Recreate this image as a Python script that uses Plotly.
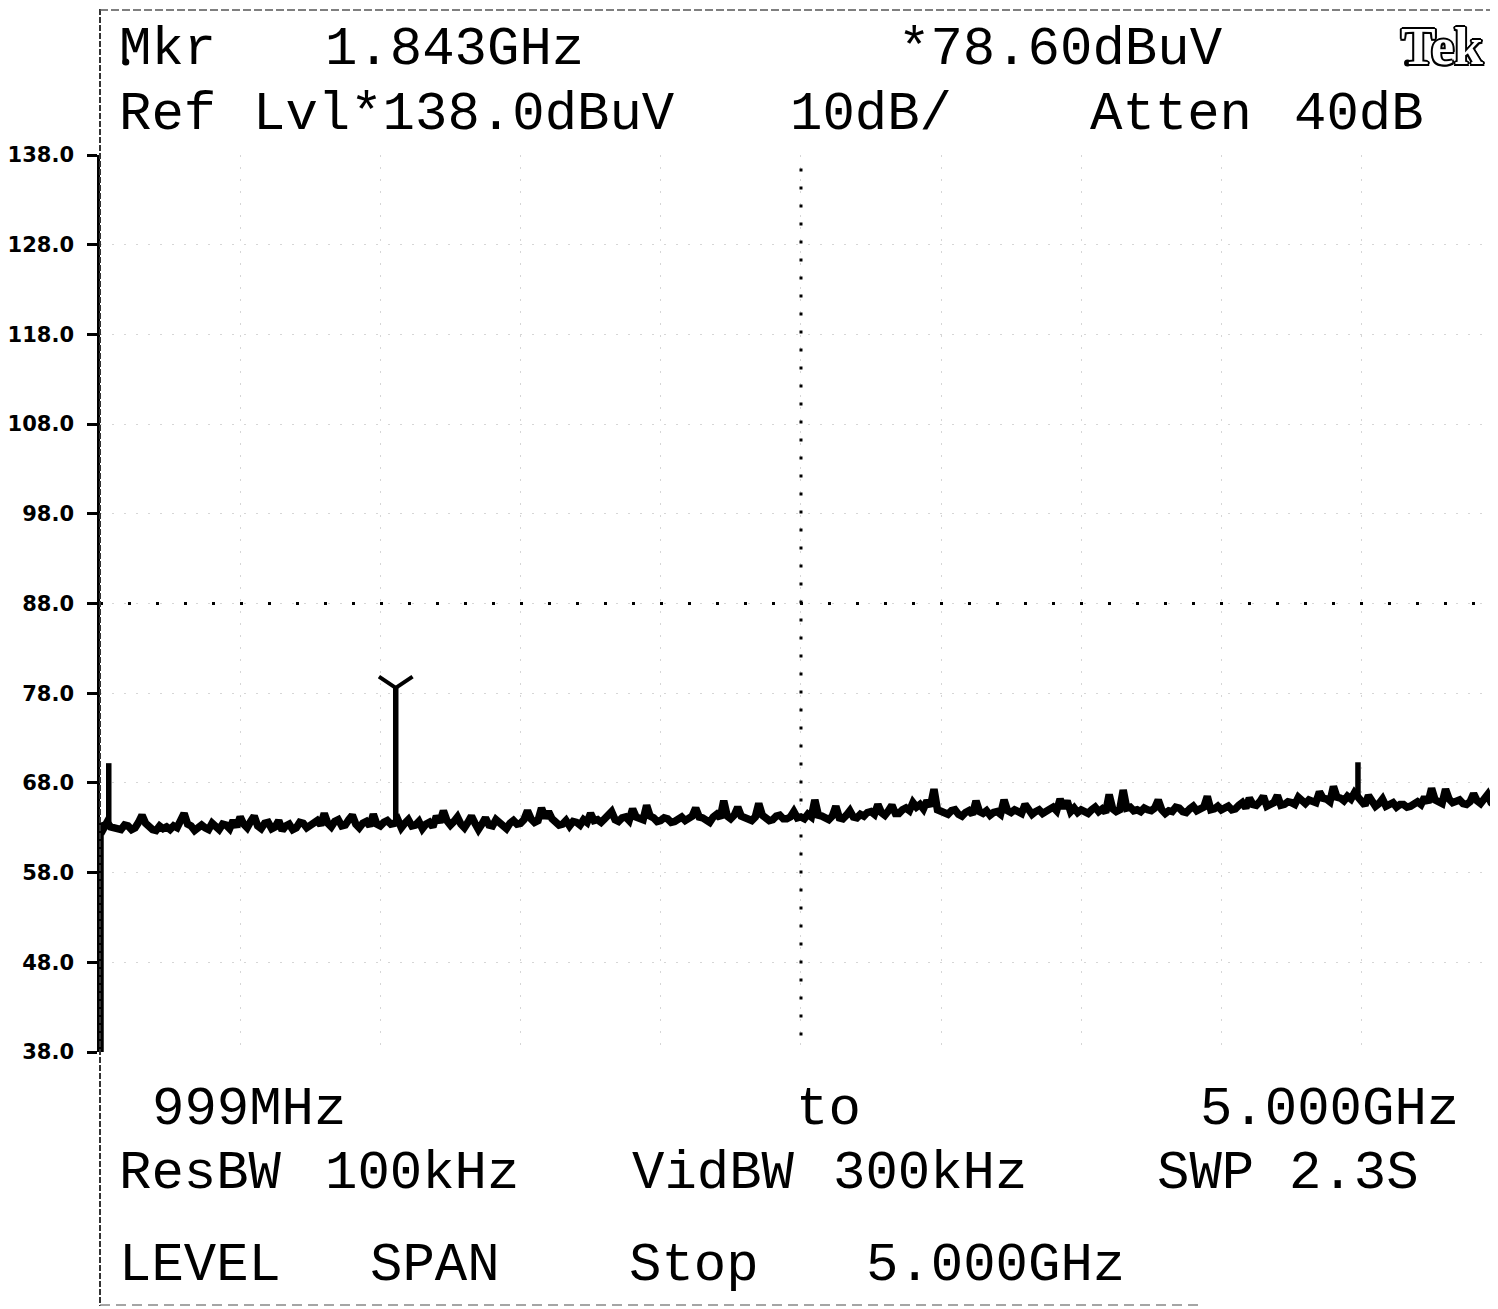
import numpy as np
import plotly.graph_objects as go

# ---------------- data ----------------
start_mhz = 999.0
stop_mhz = 5000.0
center_mhz = (start_mhz + stop_mhz) / 2
ref_level_db = 138.0
bottom_level_db = 38.0
display_line_db = 88.0

y_tick_values = [38, 48, 58, 68, 78, 88, 98, 108, 118, 128, 138]
y_tick_labels = ["38.0", "48.0", "58.0", "68.0", "78.0", "88.0",
                 "98.0", "108.0", "118.0", "128.0", "138.0"]

sweep_step_mhz = 10.0
# trace level (dBuV) read every 10 MHz from 999 MHz to 4999 MHz (20 values = 200 MHz per row)
noise_levels = [
    63.4, 62.9, 63.6, 63.1, 63.0, 62.7, 62.8, 63.3, 63.2, 62.8, 63.0, 63.6, 64.4, 63.5, 63.1, 62.8, 62.7, 63.2, 62.9, 63.1,
    62.8, 63.2, 63.0, 63.9, 64.6, 63.4, 63.2, 62.7, 62.9, 63.3, 63.0, 62.8, 63.5, 63.0, 62.8, 63.4, 63.3, 62.9, 63.8, 63.1,
    64.2, 63.4, 63.0, 63.7, 64.3, 63.2, 62.9, 63.5, 63.6, 62.9, 63.1, 63.8, 62.7, 63.2, 63.4, 62.8, 63.0, 63.6, 63.5, 63.0,
    63.2, 63.6, 63.8, 63.3, 64.6, 63.5, 63.1, 63.7, 63.9, 63.2, 63.3, 63.9, 64.4, 63.4, 63.0, 63.5, 63.7, 63.2, 64.5, 63.4,
    63.2, 63.6, 63.8, 63.4, 63.5, 63.9, 63.0, 63.5, 63.9, 63.2, 63.3, 63.7, 62.9, 63.4, 63.6, 63.1, 64.3, 63.6, 64.9, 63.8,
    63.3, 63.7, 64.2, 63.4, 63.0, 63.6, 64.3, 63.5, 62.8, 63.4, 64.1, 63.3, 63.2, 63.9, 63.6, 63.1, 62.9, 63.5, 63.8, 63.4,
    63.5, 63.9, 64.9, 64.0, 63.6, 63.8, 65.2, 64.1, 64.8, 64.0, 63.7, 63.3, 63.4, 63.8, 63.2, 63.7, 63.6, 63.3, 63.9, 63.6,
    64.6, 63.8, 63.9, 63.6, 64.0, 64.3, 64.8, 63.9, 63.7, 64.1, 64.2, 63.8, 65.1, 64.2, 64.0, 63.9, 65.5, 64.3, 64.1, 63.7,
    63.8, 64.1, 64.0, 63.6, 63.7, 64.0, 64.2, 63.8, 64.0, 64.3, 65.2, 64.2, 64.1, 63.9, 63.6, 64.2, 64.5, 64.1, 66.0, 64.3,
    64.0, 64.4, 65.3, 64.3, 64.2, 63.9, 63.8, 64.2, 65.7, 64.4, 64.1, 63.8, 63.9, 64.3, 64.4, 64.0, 64.0, 64.2, 64.8, 64.1,
    64.2, 64.0, 64.5, 64.2, 66.1, 64.4, 64.3, 64.0, 63.9, 64.3, 65.4, 64.1, 64.0, 64.4, 64.9, 64.2, 64.1, 64.5, 64.3, 64.7,
    64.8, 64.5, 65.6, 64.7, 64.4, 64.9, 65.5, 64.6, 64.6, 65.0, 65.2, 64.9, 65.8, 65.3, 65.6, 65.1, 66.0, 65.4, 67.3, 65.0,
    64.8, 64.6, 64.5, 64.9, 65.0, 64.5, 64.3, 64.7, 64.9, 64.5, 66.0, 64.8, 64.6, 64.9, 64.4, 64.7, 64.8, 64.5, 66.1, 64.9,
    64.7, 65.0, 64.9, 64.6, 65.6, 64.9, 64.5, 64.8, 65.0, 64.6, 64.8, 65.1, 65.3, 64.9, 66.2, 65.2, 66.0, 64.8, 65.2, 64.7,
    65.0, 64.8, 64.6, 65.0, 65.3, 64.8, 65.1, 64.7, 66.7, 65.1, 64.8, 65.0, 67.2, 65.2, 65.3, 64.9, 65.0, 64.8, 65.2, 65.0,
    64.9, 65.2, 66.1, 65.0, 64.6, 64.9, 64.8, 65.3, 65.2, 64.8, 64.7, 65.1, 65.4, 64.9, 65.0, 65.3, 66.5, 65.0, 65.1, 65.4,
    65.0, 65.3, 65.4, 65.0, 65.1, 65.5, 65.8, 65.2, 66.3, 65.6, 65.5, 65.9, 66.5, 65.4, 65.7, 65.8, 66.6, 65.5, 65.6, 65.9,
    65.8, 65.6, 66.4, 66.0, 65.7, 66.1, 66.0, 65.8, 67.0, 66.3, 66.2, 65.9, 67.6, 66.4, 66.3, 66.0, 66.5, 66.2, 66.9, 66.4,
    65.9, 65.5, 66.6, 65.8, 65.4, 65.7, 66.2, 65.4, 65.5, 65.8, 65.3, 65.6, 65.6, 65.3, 65.4, 65.7, 65.9, 65.6, 66.4, 65.8,
    67.4, 66.1, 66.0, 65.7, 67.3, 66.2, 65.8, 66.0, 66.1, 65.7, 65.6, 65.9, 66.8, 66.0, 65.7, 66.2, 66.7, 65.8, 65.5, 65.9,
    66.3,
]
sweep_freqs = start_mhz + sweep_step_mhz * np.arange(len(noise_levels))

# narrow signals
spike_freqs = [1024.0, 1843.0, 4589.0]
spike_bases = [63.2, 63.4, 66.2]
spike_peaks = [70.2, 78.6, 70.3]

marker_freq = 1843.0
marker_level = 78.6

# ---------------- layout helpers ----------------
OFF = 8                      # page body margin of the html document
W, H = 1498 - OFF, 1309 - OFF
L = 92 - OFF                 # left edge of graticule
T = 155 - OFF                # top of graticule
B = H - (1052 - OFF)         # bottom margin
PW = W - L
PH = H - T - B


def px(x):
    """reference page x -> paper x"""
    return (x - OFF - L) / PW


def py(y):
    """reference page y -> paper y"""
    return (H - B - (y - OFF)) / PH


# the right edge of the graticule lies 4 px outside the window
x_view_stop = start_mhz + (stop_mhz - start_mhz) * PW / (PW + 4)

fig = go.Figure()

# main trace: sweep starts from the bottom of the screen
trace_x = [start_mhz] + list(sweep_freqs)
trace_y = [bottom_level_db - 2] + list(noise_levels)
fig.add_trace(go.Scatter(x=trace_x, y=trace_y, mode="lines",
                         line=dict(color="black", width=7.5),
                         hoverinfo="skip", showlegend=False))

sx, sy = [], []
for f, b0, p in zip(spike_freqs, spike_bases, spike_peaks):
    sx += [f, f, None]
    sy += [b0, p, None]
fig.add_trace(go.Scatter(x=sx, y=sy, mode="lines",
                         line=dict(color="black", width=5.5),
                         hoverinfo="skip", showlegend=False))

fig.add_trace(go.Scatter(x=[marker_freq], y=[marker_level], mode="markers",
                         marker=dict(symbol="y-down", size=28, color="black",
                                     line=dict(color="black", width=4)),
                         hoverinfo="skip", showlegend=False))

shapes = []
# center frequency dotted line
shapes.append(dict(type="line", xref="x", yref="y", x0=center_mhz, x1=center_mhz,
                   y0=ref_level_db - 1.5, y1=bottom_level_db + 1,
                   line=dict(color="black", width=3, dash="3px,15px")))
# display line
shapes.append(dict(type="line", xref="x", yref="y", x0=start_mhz, x1=x_view_stop,
                   y0=display_line_db, y1=display_line_db,
                   line=dict(color="black", width=3, dash="3px,25px")))
# outer frame of the print
shapes.append(dict(type="line", xref="paper", yref="paper", x0=0, x1=0,
                   y0=py(9), y1=py(1306),
                   line=dict(color="#333333", width=2, dash="6px,2px")))
shapes.append(dict(type="line", xref="paper", yref="paper", x0=0, x1=1,
                   y0=py(10), y1=py(10),
                   line=dict(color="#555555", width=1.5, dash="8px,3px")))
shapes.append(dict(type="line", xref="paper", yref="paper", x0=0, x1=px(1200),
                   y0=py(1305), y1=py(1305),
                   line=dict(color="#888888", width=1.5, dash="10px,6px")))
# small printer dots
for cx, cy in [(118, 62), (1407, 63)]:
    shapes.append(dict(type="circle", xref="paper", yref="paper",
                       x0=px(cx - 3.5), x1=px(cx + 3.5),
                       y0=py(cy - 3.5), y1=py(cy + 3.5),
                       fillcolor="black", line=dict(width=0)))

mono = dict(family="Liberation Mono, DejaVu Sans Mono, monospace", size=54, color="black")
tokens = [
    ("Mkr", 109, 49), ("1.843GHz", 316, 49), ("*78.60dBuV", 893, 49),
    ("Ref", 109, 114), ("Lvl*138.0dBuV", 244, 114), ("10dB/", 784, 114),
    ("Atten", 1086, 114), ("40dB", 1291, 114),
    ("999MHz", 142, 1109), ("to", 790, 1109), ("5.000GHz", 1196, 1109),
    ("ResBW", 109, 1173), ("100kHz", 316, 1173), ("VidBW", 625, 1173),
    ("300kHz", 827, 1173), ("SWP", 1153, 1173), ("2.3S", 1286, 1173),
    ("LEVEL", 109, 1265), ("SPAN", 362, 1265), ("Stop", 622, 1265),
    ("5.000GHz", 860, 1265),
]
annotations = []
for txt, x0, yc in tokens:
    annotations.append(dict(text=txt, xref="paper", yref="paper",
                            x=px(x0), y=py(yc), xanchor="left", yanchor="middle",
                            showarrow=False, font=mono))
annotations.append(dict(
    text="<b>Tek</b>", xref="paper", yref="paper", x=px(1398), y=py(46),
    xanchor="left", yanchor="middle", showarrow=False,
    font=dict(family="Liberation Serif, DejaVu Serif, serif", size=52, color="white",
              shadow="2px 0 0 #000, -2px 0 0 #000, 0 2px 0 #000, 0 -2px 0 #000, "
                     "1.5px 1.5px 0 #000, -1.5px -1.5px 0 #000, 1.5px -1.5px 0 #000, -1.5px 1.5px 0 #000")))

fig.update_layout(
    width=W, height=H,
    margin=dict(l=L, r=0, t=T, b=B, pad=0),
    paper_bgcolor="white", plot_bgcolor="white",
    showlegend=False,
    shapes=shapes, annotations=annotations,
    xaxis=dict(range=[start_mhz, x_view_stop],
               tickvals=list(np.linspace(start_mhz, stop_mhz, 11)),
               showticklabels=False, ticks="",
               showgrid=True, gridcolor="#d6d6d6", gridwidth=1, griddash="2px,10px",
               zeroline=False, showline=False, fixedrange=True),
    yaxis=dict(range=[bottom_level_db, ref_level_db],
               tickvals=y_tick_values, ticktext=y_tick_labels,
               ticks="outside", ticklen=10, tickwidth=2.5, tickcolor="black",
               ticklabelstandoff=9,
               tickfont=dict(family="DejaVu Sans, sans-serif", size=21, color="black",
                             weight="bold"),
               showgrid=True, gridcolor="#d6d6d6", gridwidth=1, griddash="2px,10px",
               zeroline=False, showline=True, linecolor="black", linewidth=2.5,
               fixedrange=True),
)

fig.write_html("out.html")
